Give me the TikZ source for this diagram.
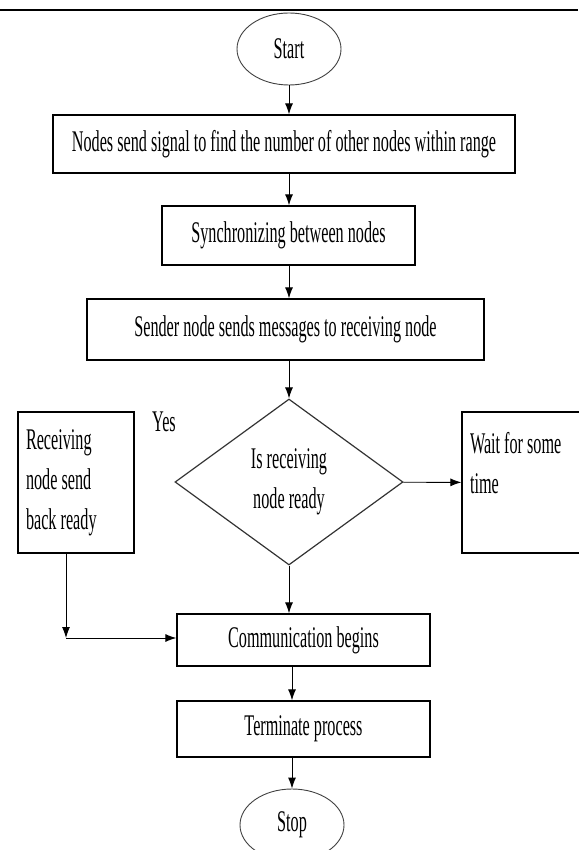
\documentclass[tikz,border=0pt]{standalone}
\usepackage{fontspec}
\setmainfont[FakeStretch=0.54]{Liberation Serif}
\usetikzlibrary{shapes.geometric,arrows.meta}

\begin{document}
\begin{tikzpicture}[x=1pt,y=-1pt,
    every node/.style={font=\fontsize{30}{40}\selectfont},
    box/.style={draw,line width=1.3pt,inner sep=0pt},
    term/.style={ellipse,draw=black!75,line width=0.9pt,minimum width=104pt,minimum height=72pt,inner sep=0pt},
    decision/.style={diamond,draw=black!80,line width=1.2pt,minimum width=228pt,minimum height=166pt,inner sep=0pt,align=center},
    side/.style={box,minimum height=141pt,inner xsep=8pt,align=flush left},
    flow/.style={->,line width=0.9pt},
    >={Latex[length=11pt,width=8pt]}]
    \useasboundingbox (0,0) rectangle (578,850);
    \draw[line width=2.8pt] (0,10) -- (578,10);
    \node[term] (n0) at (289,49) {Start};
    \node[box,minimum width=462pt,minimum height=58pt] (n1) at (284,144) {Nodes send signal to find the number of other nodes within range};
    \node[box,minimum width=253pt,minimum height=59pt] (n2) at (288.5,235.5) {Synchronizing between nodes};
    \node[box,minimum width=397pt,minimum height=61pt] (n3) at (285.5,329.5) {Sender node sends messages to receiving node};
    \node[decision] (n4) at (289,482) {Is receiving\\node ready};
    \node[side,text width=100pt] (n5) at (76,482.5) {Receiving\\node send\\back ready};
    \node[side,text width=102pt] (n6) at (521,482.5) {Wait for some\\time\\\mbox{}};
    \node (n10) at (164,422) {Yes};
    \node[box,minimum width=253pt,minimum height=52pt] (n7) at (303.5,640) {Communication begins};
    \node[box,minimum width=253pt,minimum height=56pt] (n8) at (303.5,729) {Terminate process};
    \node[term] (n9) at (292,825) {Stop};
    \coordinate (c0) at (66,638);
    \draw[flow] (n0) -- (n0 |- n1.north);
    \draw[flow] (n0 |- n1.south) -- (n0 |- n2.north);
    \draw[flow] (n0 |- n2.south) -- (n0 |- n3.north);
    \draw[flow] (n0 |- n3.south) -- (n4.north);
    \draw[flow] (n4) -- (n4 |- n7.north);
    \draw[flow] (n4) -- (n6);
    \draw[flow] (n5.south -| c0) -- (c0);
    \draw[flow] (c0) -- (n7.west |- c0);
    \draw[flow] (n7.south -| n9) -- (n9 |- n8.north);
    \draw[flow] (n9 |- n8.south) -- (n9);
\end{tikzpicture}
\end{document}
